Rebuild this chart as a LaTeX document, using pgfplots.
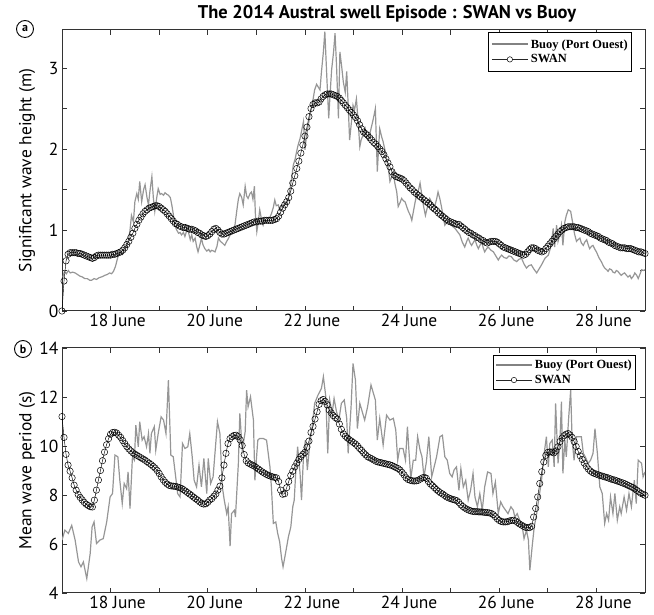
\documentclass[border=0pt]{standalone}
\usepackage{fontspec}
\setmainfont{PT Sans}
\newfontfamily\legfont{Liberation Serif}
\usepackage{pgfplots}
\usepackage{pgfplotstable}
\pgfplotsset{compat=1.18}
\definecolor{buoygray}{RGB}{150,150,150}
\definecolor{leggray}{RGB}{130,130,130}
\begin{document}
\begin{tikzpicture}
\useasboundingbox (0,0) rectangle (654bp,615bp);
\pgfplotsset{
  mystyle/.style={
    scale only axis, width=583bp, anchor=south west,
    xmin=17, xmax=29,
    xtick={18,19,...,28},
    xticklabels={18 June,,20 June,,22 June,,24 June,,26 June,,28 June},
    xticklabel style={xshift=7bp},
    tick align=inside, major tick length=5bp,
    tick style={black!80, line width=0.7bp},
    axis line style={black!80, line width=1bp},
    /pgf/number format/assume math mode=true,
    ticklabel style={font=\fontsize{17.5}{19}\selectfont},
    label style={font=\fontsize{17.5}{19}\selectfont},
    ylabel style={at={(axis description cs:-0.06,0.5)}, anchor=center},
    legend cell align=left,
    legend style={anchor=north east, draw=black, line width=0.9bp, fill=white,
      font=\legfont\bfseries\fontsize{12.5}{13.5}\selectfont, inner xsep=2bp, row sep=1bp},
  },
  buoy/.style={buoygray, line width=1.2bp, mark=none,
    legend image code/.code={\draw[leggray, line width=2bp] (0bp,0bp) -- (36bp,0bp);}},
  swan/.style={black, line width=0.45bp, mark=o, mark size=3.2bp, mark options={line width=0.5bp, fill=none},
    legend image code/.code={\draw[black!85, line width=0.4bp] (0bp,0bp) -- (36bp,0bp);
      \draw[black, line width=0.5bp, fill=white] (18bp,0bp) circle (2.7bp);}},
}
% ---------- panel (a) ----------
\begin{axis}[mystyle, at={(62bp,304bp)}, height=281bp,
  ymin=0, ymax=3.47,
  ytick={0,0.5,...,3}, yticklabels={0,,1,,2,,3},
  ylabel={Significant wave height (m)},
  legend style={at={(0.978,0.993)}, inner ysep=5bp}]
\addplot[buoy] coordinates {
(17.02,0.42)(17.05,0.49)(17.09,0.46)(17.13,0.50)(17.17,0.47)(17.22,0.48)(17.27,0.47)(17.32,0.45)(17.37,0.43)(17.42,0.42)
(17.47,0.40)(17.52,0.40)(17.57,0.38)(17.61,0.38)(17.66,0.40)(17.71,0.39)(17.76,0.41)(17.81,0.42)(17.85,0.43)(17.88,0.44)
(17.93,0.45)(17.98,0.47)(18.02,0.46)(18.06,0.49)(18.10,0.55)(18.13,0.62)(18.16,0.69)(18.20,0.72)(18.24,0.70)(18.28,0.76)
(18.33,0.79)(18.37,0.88)(18.40,1.00)(18.43,1.18)(18.47,1.10)(18.50,1.35)(18.54,1.45)(18.57,1.38)(18.60,1.60)(18.64,1.35)
(18.68,1.50)(18.71,1.56)(18.75,1.40)(18.78,1.31)(18.81,1.48)(18.85,1.66)(18.88,1.40)(18.91,1.23)(18.95,1.40)(18.98,1.51)
(19.02,1.44)(19.05,1.45)(19.09,1.43)(19.12,1.46)(19.16,1.44)(19.19,1.43)(19.23,1.40)(19.26,1.31)(19.29,1.20)(19.32,1.06)
(19.36,1.00)(19.40,0.96)(19.43,0.97)(19.46,0.94)(19.50,0.97)(19.53,0.92)(19.57,1.00)(19.60,0.98)(19.64,0.88)(19.67,0.94)
(19.70,0.86)(19.74,0.90)(19.77,0.80)(19.80,0.73)(19.84,0.82)(19.87,0.90)(19.90,0.82)(19.94,0.77)(19.98,0.74)(20.02,0.76)
(20.05,0.73)(20.08,0.75)(20.12,0.74)(20.15,0.73)(20.19,0.80)(20.22,0.90)(20.26,0.86)(20.30,0.84)(20.35,0.81)(20.39,0.86)
(20.43,0.90)(20.46,0.94)(20.50,0.96)(20.53,1.00)(20.56,1.06)(20.60,1.25)(20.63,1.38)(20.66,1.45)(20.70,1.40)(20.73,1.31)
(20.77,1.54)(20.80,1.42)(20.83,1.39)(20.87,1.45)(20.90,1.47)(20.93,1.38)(20.96,1.54)(20.98,1.20)(21.01,0.98)(21.04,1.10)
(21.07,1.25)(21.11,1.12)(21.14,1.06)(21.17,1.12)(21.21,1.10)(21.24,1.14)(21.28,1.16)(21.31,1.20)(21.35,1.28)(21.38,1.37)
(21.41,1.30)(21.45,1.31)(21.48,1.25)(21.52,1.30)(21.55,1.29)(21.59,1.34)(21.62,1.32)(21.66,1.39)(21.69,1.50)(21.73,1.65)
(21.76,1.80)(21.80,1.88)(21.83,1.97)(21.86,2.05)(21.90,2.13)(21.93,2.22)(21.97,2.34)(22.00,1.99)(22.03,2.15)(22.07,2.30)
(22.10,2.40)(22.14,2.52)(22.17,2.62)(22.20,2.73)(22.24,2.80)(22.27,2.77)(22.31,2.73)(22.34,2.95)(22.38,3.20)(22.41,3.45)
(22.45,2.90)(22.49,2.38)(22.52,2.70)(22.55,2.98)(22.59,3.20)(22.62,3.43)(22.65,3.04)(22.69,2.38)(22.72,3.20)(22.76,3.00)
(22.79,2.83)(22.83,2.70)(22.86,2.96)(22.89,2.55)(22.92,2.11)(22.96,2.35)(22.99,2.54)(23.02,2.48)(23.06,2.62)(23.10,2.30)
(23.13,2.03)(23.16,2.12)(23.20,2.17)(23.24,2.25)(23.27,2.14)(23.30,2.11)(23.34,2.20)(23.38,2.30)(23.41,2.38)(23.45,2.50)
(23.49,1.72)(23.52,2.05)(23.54,2.25)(23.58,2.15)(23.61,2.09)(23.65,1.98)(23.68,1.88)(23.72,1.75)(23.75,1.60)(23.79,1.66)
(23.82,1.72)(23.85,1.58)(23.89,1.47)(23.92,1.29)(23.96,1.34)(23.99,1.39)(24.03,1.36)(24.06,1.35)(24.10,1.28)(24.13,1.23)
(24.17,1.18)(24.20,1.12)(24.23,1.22)(24.27,1.35)(24.30,1.44)(24.34,1.50)(24.37,1.58)(24.41,1.42)(24.44,1.30)(24.48,1.18)
(24.52,1.28)(24.57,1.39)(24.62,1.33)(24.67,1.29)(24.71,1.38)(24.74,1.47)(24.78,1.38)(24.81,1.29)(24.85,1.15)(24.88,1.06)
(24.93,1.10)(24.98,1.08)(25.03,1.05)(25.09,1.02)(25.14,0.98)(25.19,0.94)(25.24,0.85)(25.29,0.79)(25.33,0.86)(25.36,0.90)
(25.40,0.84)(25.43,0.81)(25.47,0.85)(25.50,0.88)(25.54,0.81)(25.57,0.77)(25.61,0.82)(25.64,0.85)(25.67,0.78)(25.70,0.73)
(25.74,0.77)(25.77,0.79)(25.83,0.75)(25.88,0.73)(25.93,0.68)(25.98,0.63)(26.02,0.67)(26.05,0.69)(26.10,0.66)(26.15,0.65)
(26.20,0.68)(26.25,0.67)(26.30,0.63)(26.36,0.61)(26.41,0.64)(26.46,0.65)(26.51,0.58)(26.56,0.53)(26.61,0.56)(26.66,0.57)
(26.71,0.52)(26.77,0.47)(26.82,0.52)(26.87,0.57)(26.94,0.65)(27.01,0.69)(27.07,0.81)(27.11,1.02)(27.14,0.79)(27.18,1.06)
(27.21,0.86)(27.25,0.95)(27.28,1.06)(27.31,0.81)(27.35,1.10)(27.38,1.18)(27.42,1.25)(27.47,1.23)(27.52,1.06)(27.55,0.95)
(27.59,0.86)(27.62,0.88)(27.66,0.90)(27.69,0.84)(27.73,0.81)(27.76,0.85)(27.80,0.88)(27.83,0.82)(27.86,0.77)(27.90,0.80)
(27.93,0.81)(27.97,0.76)(28.00,0.73)(28.05,0.66)(28.10,0.61)(28.14,0.56)(28.17,0.53)(28.21,0.51)(28.24,0.49)(28.27,0.52)
(28.31,0.51)(28.34,0.48)(28.38,0.47)(28.41,0.50)(28.44,0.49)(28.48,0.46)(28.51,0.44)(28.55,0.46)(28.58,0.47)(28.62,0.44)
(28.65,0.42)(28.69,0.44)(28.72,0.40)(28.76,0.43)(28.79,0.47)(28.83,0.44)(28.86,0.40)(28.90,0.46)(28.93,0.51)(28.97,0.50)
(29.00,0.51)};
\addlegendentry{Buoy (Port Ouest)}
\addplot[swan] table[row sep=\\, header=false, x expr=17+\coordindex/24, y index=0] {
0.00\\0.37\\0.62\\0.70\\0.72\\0.72\\0.72\\0.72\\0.71\\0.71\\0.70\\0.69\\0.68\\0.67\\0.66\\0.65\\0.66\\0.68\\0.69\\0.69\\0.69\\0.69\\0.69\\0.69\\
0.69\\0.70\\0.70\\0.71\\0.72\\0.73\\0.75\\0.78\\0.82\\0.86\\0.91\\0.96\\1.02\\1.07\\1.12\\1.16\\1.20\\1.23\\1.25\\1.27\\1.28\\1.29\\1.30\\1.30\\
1.29\\1.27\\1.25\\1.23\\1.20\\1.17\\1.14\\1.11\\1.08\\1.07\\1.05\\1.04\\1.03\\1.03\\1.02\\1.01\\1.01\\1.00\\0.99\\0.97\\0.96\\0.94\\0.93\\0.92\\
0.93\\0.95\\0.98\\1.01\\1.02\\1.00\\0.97\\0.95\\0.95\\0.96\\0.97\\0.98\\0.99\\1.00\\1.01\\1.02\\1.03\\1.04\\1.05\\1.06\\1.07\\1.08\\1.09\\1.10\\
1.10\\1.11\\1.11\\1.11\\1.12\\1.12\\1.12\\1.12\\1.12\\1.13\\1.14\\1.17\\1.22\\1.27\\1.31\\1.35\\1.40\\1.48\\1.58\\1.67\\1.76\\1.85\\1.95\\2.05\\
2.16\\2.27\\2.40\\2.50\\2.55\\2.57\\2.57\\2.58\\2.62\\2.65\\2.67\\2.68\\2.68\\2.68\\2.67\\2.66\\2.65\\2.63\\2.60\\2.57\\2.54\\2.51\\2.48\\2.45\\
2.42\\2.39\\2.35\\2.30\\2.25\\2.21\\2.19\\2.17\\2.14\\2.11\\2.08\\2.06\\2.03\\2.00\\1.97\\1.93\\1.88\\1.83\\1.78\\1.72\\1.68\\1.66\\1.65\\1.64\\
1.63\\1.61\\1.58\\1.55\\1.52\\1.50\\1.47\\1.45\\1.43\\1.41\\1.39\\1.37\\1.35\\1.33\\1.31\\1.28\\1.26\\1.24\\1.21\\1.19\\1.17\\1.15\\1.13\\1.11\\
1.10\\1.09\\1.08\\1.07\\1.07\\1.05\\1.03\\1.01\\0.99\\0.97\\0.96\\0.94\\0.93\\0.91\\0.90\\0.88\\0.87\\0.85\\0.84\\0.85\\0.86\\0.86\\0.86\\0.85\\
0.83\\0.81\\0.79\\0.78\\0.77\\0.76\\0.75\\0.74\\0.73\\0.72\\0.71\\0.70\\0.69\\0.70\\0.73\\0.76\\0.78\\0.78\\0.77\\0.75\\0.74\\0.73\\0.74\\0.77\\
0.80\\0.83\\0.86\\0.89\\0.92\\0.95\\0.98\\1.00\\1.02\\1.03\\1.04\\1.04\\1.04\\1.04\\1.03\\1.03\\1.02\\1.01\\1.00\\0.99\\0.98\\0.96\\0.95\\0.94\\
0.93\\0.92\\0.90\\0.89\\0.88\\0.87\\0.85\\0.84\\0.83\\0.81\\0.80\\0.79\\0.78\\0.78\\0.78\\0.77\\0.77\\0.77\\0.76\\0.75\\0.74\\0.73\\0.73\\0.72\\0.71\\
};
\addlegendentry{SWAN}
\end{axis}
% ---------- panel (b) ----------
\begin{axis}[mystyle, at={(62bp,22bp)}, height=245bp,
  ymin=4, ymax=14,
  ytick={4,6,...,14},
  ylabel={Mean wave period (s)},
  legend style={at={(0.985,0.971)}, inner ysep=2.5bp}]
\addplot[buoy] coordinates {
(17.00,6.16)(17.06,6.57)(17.13,6.43)(17.20,6.76)(17.27,6.16)(17.34,5.27)(17.39,5.07)(17.44,5.27)(17.51,4.59)(17.58,5.61)
(17.62,6.70)(17.66,6.90)(17.71,6.02)(17.78,6.16)(17.85,6.22)(17.92,6.90)(17.99,7.92)(18.04,8.06)(18.09,9.63)(18.15,9.56)
(18.19,8.60)(18.24,7.65)(18.28,8.47)(18.33,8.26)(18.36,8.94)(18.40,7.45)(18.45,9.56)(18.49,9.42)(18.52,10.85)(18.57,9.97)
(18.60,10.99)(18.65,10.24)(18.69,10.38)(18.74,9.97)(18.78,10.51)(18.81,9.70)(18.84,10.51)(18.90,10.79)(18.93,9.83)(18.98,10.51)
(19.04,11.19)(19.09,11.06)(19.14,10.51)(19.19,12.69)(19.24,9.63)(19.29,9.56)(19.34,8.74)(19.38,8.06)(19.43,7.92)(19.48,10.10)
(19.53,9.90)(19.59,9.97)(19.63,10.51)(19.68,9.56)(19.72,8.60)(19.77,8.33)(19.82,9.22)(19.87,8.33)(19.92,9.49)(19.98,8.06)
(20.01,9.49)(20.06,8.47)(20.11,8.74)(20.20,10.99)(20.25,10.51)(20.30,8.33)(20.34,7.79)(20.39,7.24)(20.42,7.52)(20.46,5.91)
(20.49,7.24)(20.55,7.38)(20.57,7.10)(20.63,9.29)(20.66,11.33)(20.71,9.83)(20.77,10.58)(20.80,12.28)(20.83,11.60)(20.88,12.01)
(20.94,11.06)(20.97,8.60)(21.03,10.24)(21.07,10.31)(21.14,10.31)(21.21,10.24)(21.28,9.15)(21.31,8.33)(21.35,6.84)(21.40,6.90)
(21.44,6.43)(21.48,6.09)(21.52,5.41)(21.55,5.07)(21.60,5.61)(21.66,6.29)(21.71,6.70)(21.75,7.52)(21.78,7.79)(21.81,8.88)
(21.85,9.97)(21.90,8.88)(21.93,7.79)(21.97,9.56)(22.01,10.24)(22.05,9.02)(22.10,10.10)(22.15,10.79)(22.20,11.74)(22.27,12.08)
(22.34,12.35)(22.38,12.83)(22.43,12.01)(22.47,9.70)(22.51,11.88)(22.56,11.33)(22.60,11.94)(22.65,11.40)(22.70,11.06)(22.75,11.74)
(22.81,11.88)(22.86,11.13)(22.89,9.70)(22.95,11.60)(22.99,13.37)(23.04,12.69)(23.08,10.71)(23.13,11.74)(23.20,11.26)(23.23,11.06)
(23.29,11.60)(23.36,12.49)(23.41,12.15)(23.45,11.88)(23.49,10.24)(23.54,11.13)(23.61,10.04)(23.68,11.26)(23.75,11.06)(23.82,11.13)
(23.87,10.65)(23.91,9.42)(23.95,9.90)(24.02,9.90)(24.07,9.42)(24.11,10.79)(24.14,9.83)(24.18,8.67)(24.23,9.42)(24.28,9.42)
(24.32,10.38)(24.37,9.83)(24.41,9.56)(24.45,8.74)(24.50,9.35)(24.55,10.38)(24.61,8.74)(24.66,9.15)(24.71,9.56)(24.78,10.38)
(24.83,10.44)(24.88,9.56)(24.93,9.42)(24.98,8.88)(25.03,8.74)(25.07,9.02)(25.12,9.15)(25.17,8.19)(25.21,9.08)(25.26,8.33)
(25.31,8.60)(25.36,7.79)(25.41,8.19)(25.46,8.88)(25.50,7.92)(25.55,7.52)(25.60,8.06)(25.65,7.38)(25.70,8.33)(25.76,8.94)
(25.83,8.88)(25.87,8.06)(25.92,8.53)(25.98,7.24)(26.03,7.72)(26.08,7.52)(26.13,7.38)(26.18,7.24)(26.24,7.52)(26.29,7.38)
(26.32,7.10)(26.37,7.24)(26.42,6.97)(26.47,6.76)(26.51,6.22)(26.56,6.56)(26.60,6.16)(26.63,4.93)(26.68,5.95)(26.72,6.70)
(26.77,7.24)(26.81,7.79)(26.87,8.60)(26.92,9.63)(26.97,10.38)(27.01,9.15)(27.04,10.10)(27.09,10.24)(27.13,9.15)(27.16,11.74)
(27.21,9.29)(27.25,10.24)(27.28,11.81)(27.31,8.88)(27.35,10.24)(27.38,9.56)(27.43,11.19)(27.47,12.28)(27.50,10.24)(27.54,9.42)
(27.59,10.38)(27.64,10.38)(27.69,10.38)(27.73,9.70)(27.77,9.56)(27.83,9.29)(27.88,9.42)(27.93,9.70)(27.97,10.71)(28.02,9.70)
(28.07,8.33)(28.12,8.06)(28.17,6.84)(28.21,7.24)(28.25,6.97)(28.29,7.92)(28.34,7.24)(28.38,8.06)(28.43,6.97)(28.48,7.52)
(28.51,7.24)(28.57,7.92)(28.62,7.38)(28.67,8.06)(28.72,7.52)(28.78,8.60)(28.82,7.65)(28.86,9.42)(28.93,9.29)(28.96,8.74)
(29.00,8.94)};
\addlegendentry{Buoy (Port Ouest)}
\addplot[swan] table[row sep=\\, header=false, x expr=17+\coordindex/24, y index=0] {
11.20\\10.35\\9.66\\9.22\\8.97\\8.70\\8.40\\8.20\\8.02\\7.90\\7.80\\7.70\\7.62\\7.57\\7.52\\7.51\\7.79\\8.20\\8.61\\9.00\\9.40\\9.75\\10.05\\10.30\\
10.48\\10.55\\10.56\\10.53\\10.44\\10.35\\10.22\\10.10\\9.98\\9.88\\9.80\\9.72\\9.67\\9.62\\9.57\\9.52\\9.47\\9.42\\9.36\\9.30\\9.24\\9.17\\9.10\\9.00\\
8.88\\8.74\\8.62\\8.52\\8.44\\8.39\\8.37\\8.36\\8.35\\8.33\\8.30\\8.27\\8.22\\8.16\\8.10\\8.04\\7.98\\7.91\\7.85\\7.79\\7.72\\7.66\\7.63\\7.64\\
7.70\\7.80\\7.85\\7.95\\8.04\\8.20\\8.36\\8.70\\9.22\\9.70\\10.10\\10.30\\10.38\\10.43\\10.44\\10.38\\10.25\\10.02\\9.65\\9.40\\9.31\\9.26\\9.22\\9.18\\
9.12\\9.06\\9.00\\8.94\\8.89\\8.84\\8.80\\8.77\\8.74\\8.72\\8.70\\8.55\\8.20\\8.03\\8.05\\8.30\\8.55\\8.80\\8.97\\9.15\\9.30\\9.45\\9.57\\9.66\\
9.74\\9.95\\10.20\\10.55\\10.80\\11.10\\11.40\\11.70\\11.85\\11.90\\11.82\\11.68\\11.47\\11.35\\11.24\\11.16\\11.10\\10.90\\10.68\\10.50\\10.40\\10.32\\10.26\\10.20\\
10.14\\10.08\\10.00\\9.90\\9.82\\9.72\\9.64\\9.56\\9.52\\9.48\\9.43\\9.38\\9.35\\9.33\\9.31\\9.29\\9.27\\9.25\\9.23\\9.20\\9.16\\9.12\\9.08\\9.02\\
8.92\\8.82\\8.70\\8.63\\8.60\\8.58\\8.57\\8.58\\8.60\\8.65\\8.70\\8.72\\8.68\\8.55\\8.45\\8.38\\8.30\\8.22\\8.15\\8.09\\8.04\\7.98\\7.92\\7.88\\
7.85\\7.82\\7.80\\7.77\\7.70\\7.60\\7.53\\7.47\\7.42\\7.38\\7.35\\7.33\\7.32\\7.32\\7.31\\7.31\\7.30\\7.29\\7.28\\7.27\\7.25\\7.20\\7.12\\7.03\\
6.96\\6.92\\6.90\\6.90\\6.91\\6.94\\6.96\\6.97\\6.94\\6.88\\6.82\\6.77\\6.72\\6.68\\6.67\\6.67\\6.72\\7.10\\7.45\\7.92\\8.47\\8.95\\9.35\\9.62\\
9.74\\9.76\\9.75\\9.72\\9.80\\9.97\\10.18\\10.32\\10.42\\10.48\\10.51\\10.45\\10.35\\10.18\\9.98\\9.78\\9.60\\9.45\\9.30\\9.17\\9.06\\8.98\\8.92\\8.88\\
8.85\\8.82\\8.79\\8.77\\8.74\\8.72\\8.69\\8.66\\8.63\\8.61\\8.58\\8.55\\8.52\\8.49\\8.46\\8.42\\8.38\\8.34\\8.30\\8.25\\8.19\\8.13\\8.07\\8.03\\7.99\\
};
\addlegendentry{SWAN}
\end{axis}
% ---------- title and panel letters ----------
\node[font=\bfseries\fontsize{18.5}{20}\selectfont] at (387bp,601bp) {The 2014 Austral swell Episode : SWAN vs Buoy};
\node[circle, draw, line width=0.9bp, minimum size=17bp, inner sep=0pt, font=\bfseries\fontsize{12}{12}\selectfont] at (25bp,586bp) {a};
\node[circle, draw, line width=0.9bp, minimum size=17bp, inner sep=0pt, font=\bfseries\fontsize{12}{12}\selectfont] at (23bp,266bp) {b};
\end{tikzpicture}
\end{document}
